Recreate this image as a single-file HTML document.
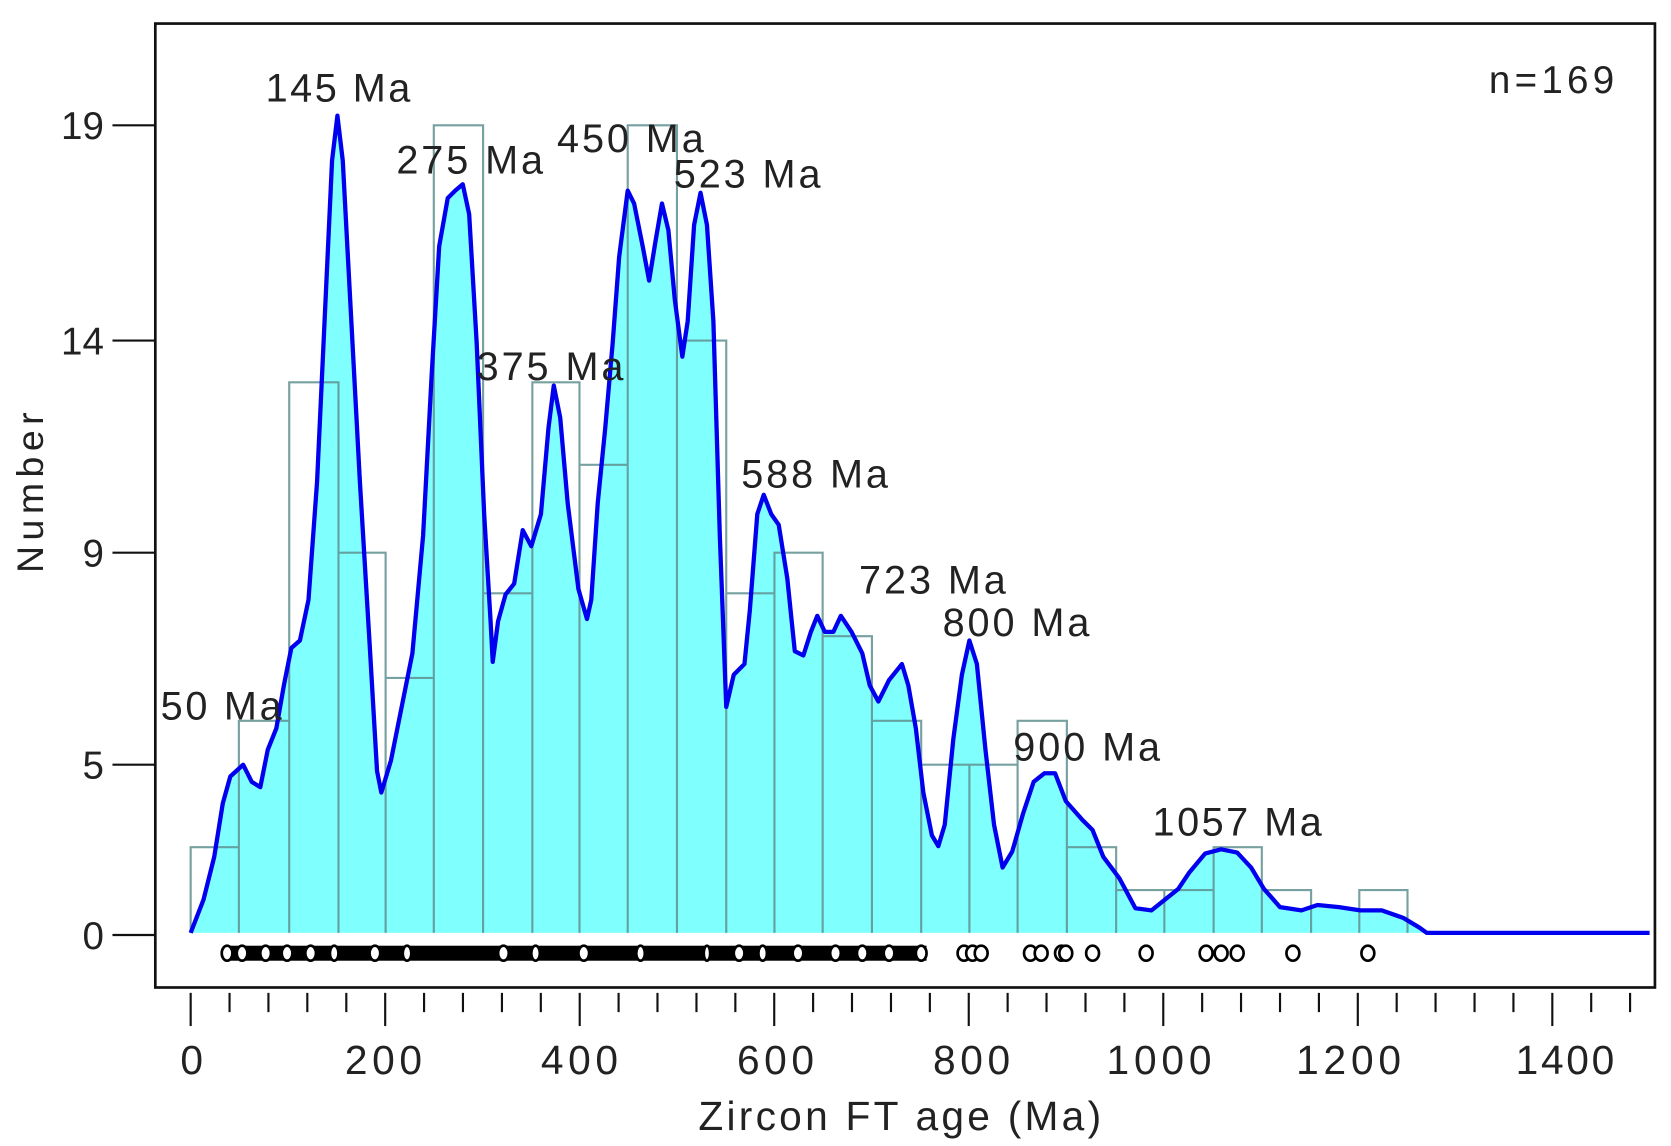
<!DOCTYPE html>
<html><head><meta charset="utf-8"><style>html,body{margin:0;padding:0;background:#fff}svg{display:block}</style></head>
<body>
<svg width="1671" height="1146" viewBox="0 0 1560 1070" preserveAspectRatio="none" xmlns="http://www.w3.org/2000/svg" font-family="Liberation Sans, sans-serif">
<rect x="0" y="0" width="1560" height="1070" fill="#fff"/>
<rect x="145" y="22" width="1400" height="900" fill="none" stroke="#111" stroke-width="2.5"/>
<polygon fill="#80ffff" points="178,871 190,840 200,800 208,750 215,725 227,714 235,730 243,735 250,700 258,680 265,640 272,605 280,598 288,560 296,450 303,300 310,150 315,108 320,150 328,300 336,450 345,600 352,720 356,740 365,710 375,660 385,610 395,500 403,350 410,230 418,185 425,178 432,172 438,200 445,320 452,480 458,580 460,618 465,580 472,555 480,545 488,495 496,510 505,480 512,400 517,360 523,390 530,470 540,550 548,578 552,560 558,470 565,400 572,320 578,240 586,178 592,190 600,230 606,262 612,225 618,190 624,215 630,280 637,333 642,300 648,210 654,180 660,210 666,300 672,500 678,660 685,630 695,620 700,570 707,480 713,462 720,480 727,490 735,540 742,608 750,612 757,590 763,575 770,590 778,590 785,575 795,590 805,610 812,640 820,655 830,635 842,620 848,640 855,680 862,740 870,780 876,790 882,770 890,690 898,630 905,598 912,620 920,700 928,770 936,810 945,795 955,760 965,730 975,722 985,722 995,748 1010,765 1020,775 1030,800 1045,820 1060,848 1075,850 1085,842 1100,830 1110,815 1125,797 1140,793 1155,796 1168,810 1180,830 1195,847 1215,850 1230,845 1250,847 1270,850 1290,850 1310,857 1325,866 1332,871 1540,871"/>
<g fill="none" stroke="#5f9090" stroke-width="2" stroke-opacity="0.85">
<path d="M178,871V791H223V871 M223,871V673H270V871 M270,871V357H316V871 M316,871V516H360V871 M360,871V633H405V871 M405,871V117H451V871 M451,871V554H497V871 M497,871V357H541V871 M541,871V434H586V871 M586,871V117H632V871 M632,871V318H678V871 M678,871V554H723V871 M723,871V516H768V871 M768,871V594H814V871 M814,871V673H860V871 M860,871V714H905V871 M905,871V714H950V871 M950,871V673H996V871 M996,871V791H1042V871 M1042,871V831H1087V871 M1087,871V831H1133V871 M1133,871V791H1178V871 M1178,871V831H1224V871 M1269,871V831H1314V871"/>
</g>
<polyline fill="none" stroke="#0000ee" stroke-width="4" stroke-linejoin="round" points="178,871 190,840 200,800 208,750 215,725 227,714 235,730 243,735 250,700 258,680 265,640 272,605 280,598 288,560 296,450 303,300 310,150 315,108 320,150 328,300 336,450 345,600 352,720 356,740 365,710 375,660 385,610 395,500 403,350 410,230 418,185 425,178 432,172 438,200 445,320 452,480 458,580 460,618 465,580 472,555 480,545 488,495 496,510 505,480 512,400 517,360 523,390 530,470 540,550 548,578 552,560 558,470 565,400 572,320 578,240 586,178 592,190 600,230 606,262 612,225 618,190 624,215 630,280 637,333 642,300 648,210 654,180 660,210 666,300 672,500 678,660 685,630 695,620 700,570 707,480 713,462 720,480 727,490 735,540 742,608 750,612 757,590 763,575 770,590 778,590 785,575 795,590 805,610 812,640 820,655 830,635 842,620 848,640 855,680 862,740 870,780 876,790 882,770 890,690 898,630 905,598 912,620 920,700 928,770 936,810 945,795 955,760 965,730 975,722 985,722 995,748 1010,765 1020,775 1030,800 1045,820 1060,848 1075,850 1085,842 1100,830 1110,815 1125,797 1140,793 1155,796 1168,810 1180,830 1195,847 1215,850 1230,845 1250,847 1270,850 1290,850 1310,857 1325,866 1332,871 1540,871"/>
<rect x="210" y="883" width="655" height="14" fill="#000"/>
<g fill="#fff" stroke="#000" stroke-width="2.5">
<ellipse cx="212" cy="890" rx="5" ry="7"/><ellipse cx="226" cy="890" rx="5" ry="7"/><ellipse cx="248" cy="890" rx="5" ry="7"/><ellipse cx="268" cy="890" rx="5" ry="7"/><ellipse cx="290" cy="890" rx="5" ry="7"/><ellipse cx="312" cy="890" rx="4" ry="7"/><ellipse cx="350" cy="890" rx="5" ry="7"/><ellipse cx="380" cy="890" rx="4" ry="7"/><ellipse cx="470" cy="890" rx="5" ry="7"/><ellipse cx="500" cy="890" rx="4" ry="7"/><ellipse cx="545" cy="890" rx="5" ry="7"/><ellipse cx="598" cy="890" rx="4" ry="7"/><ellipse cx="660" cy="890" rx="3" ry="7"/><ellipse cx="690" cy="890" rx="5" ry="7"/><ellipse cx="712" cy="890" rx="4" ry="7"/><ellipse cx="745" cy="890" rx="5" ry="7"/><ellipse cx="780" cy="890" rx="5" ry="7"/><ellipse cx="805" cy="890" rx="5" ry="7"/><ellipse cx="830" cy="890" rx="5" ry="7"/><ellipse cx="860" cy="890" rx="5" ry="7"/>
<ellipse cx="900" cy="890" rx="6" ry="7"/><ellipse cx="908" cy="890" rx="6" ry="7"/><ellipse cx="916" cy="890" rx="6" ry="7"/>
<ellipse cx="962" cy="890" rx="6" ry="7"/><ellipse cx="972" cy="890" rx="6" ry="7"/><ellipse cx="991" cy="890" rx="6" ry="7"/><ellipse cx="995" cy="890" rx="6" ry="7"/><ellipse cx="1020" cy="890" rx="6" ry="7"/><ellipse cx="1070" cy="890" rx="6" ry="7"/><ellipse cx="1126" cy="890" rx="6" ry="7"/><ellipse cx="1140" cy="890" rx="6" ry="7"/><ellipse cx="1155" cy="890" rx="6" ry="7"/><ellipse cx="1207" cy="890" rx="6" ry="7"/><ellipse cx="1277" cy="890" rx="6" ry="7"/>
</g>
<g stroke="#111" stroke-width="2"><line x1="105" y1="117" x2="145" y2="117"/><line x1="105" y1="318" x2="145" y2="318"/><line x1="105" y1="516" x2="145" y2="516"/><line x1="105" y1="714" x2="145" y2="714"/><line x1="105" y1="873" x2="145" y2="873"/></g>
<g font-size="36" fill="#222" text-anchor="end"><text x="97" y="130">19</text><text x="97" y="331">14</text><text x="97" y="529">9</text><text x="97" y="727">5</text><text x="97" y="886">0</text></g>
<text transform="translate(40,460) rotate(-90)" font-size="35" fill="#222" text-anchor="middle" textLength="150">Number</text>
<g stroke="#111" stroke-width="2">
<line x1="178" y1="927" x2="178" y2="958"/><line x1="359.6" y1="927" x2="359.6" y2="958"/><line x1="541.2" y1="927" x2="541.2" y2="958"/><line x1="722.8" y1="927" x2="722.8" y2="958"/><line x1="904.4" y1="927" x2="904.4" y2="958"/><line x1="1086" y1="927" x2="1086" y2="958"/><line x1="1267.6" y1="927" x2="1267.6" y2="958"/><line x1="1449.2" y1="927" x2="1449.2" y2="958"/>
<path d="M214.3,927v18M250.6,927v18M286.9,927v18M323.3,927v18M395.9,927v18M432.2,927v18M468.6,927v18M504.9,927v18M577.5,927v18M613.8,927v18M650.2,927v18M686.5,927v18M759.1,927v18M795.4,927v18M831.8,927v18M868.1,927v18M940.7,927v18M977,927v18M1013.4,927v18M1049.7,927v18M1122.3,927v18M1158.6,927v18M1195,927v18M1231.3,927v18M1303.9,927v18M1340.2,927v18M1376.6,927v18M1412.9,927v18M1485.5,927v18M1521.8,927v18"/>
</g>
<g font-size="38" fill="#222" text-anchor="middle"><text x="179" y="1003">0</text><text x="358" y="1003" textLength="72">200</text><text x="541" y="1003" textLength="72">400</text><text x="724" y="1003" textLength="72">600</text><text x="907" y="1003" textLength="72">800</text><text x="1082" y="1003" textLength="98">1000</text><text x="1259" y="1003" textLength="98">1200</text><text x="1461" y="1003" textLength="92">1400</text></g>
<text x="652" y="1055" font-size="38" fill="#222" textLength="376">Zircon  FT  age (Ma)</text>
<text x="1390" y="87" font-size="36" fill="#222" textLength="117">n=169</text>
<g font-size="37" fill="#222">
<text x="248" y="95" textLength="135">145 Ma</text><text x="370" y="162" textLength="137">275 Ma</text><text x="520" y="142" textLength="137">450 Ma</text><text x="629" y="175" textLength="137">523 Ma</text><text x="445" y="355" textLength="137">375 Ma</text><text x="692" y="455" textLength="137">588 Ma</text><text x="802" y="554" textLength="137">723 Ma</text><text x="880" y="594" textLength="137">800 Ma</text><text x="150" y="672" textLength="113">50 Ma</text><text x="946" y="710" textLength="137">900 Ma</text><text x="1076" y="780" textLength="158">1057 Ma</text>
</g>
</svg>
</body></html>
